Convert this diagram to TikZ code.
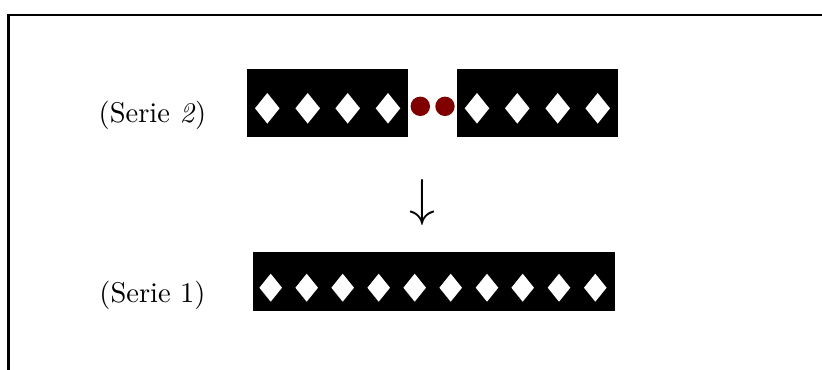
\documentclass[tikz,border=0pt]{standalone}
\usepackage{tikz}
\definecolor{dotred}{RGB}{128,0,0}
\begin{document}
\begin{tikzpicture}[x=0.3333pt,y=-0.3333pt,
  frameline/.style={line width=0.7pt,line cap=rect},
  strip/.style={fill=black},
  label/.style={inner sep=0pt,font=\fontsize{9.5}{11}\selectfont},
  bead/.style={fill=dotred},
  pip/.style={fill=white}]
\useasboundingbox (0,0) rectangle (822,369);
% open frame: top and left edges only
\draw[frameline] (8.5,369) -- (8.5,15) -- (822,15);

% labels
\node[label] (s2) at (152.5,115.5) {(Serie \textit{2})};
\node[label] (s1) at (152.5,295.5) {(Serie 1)};

% upper row: two strips joined by two beads
\fill[strip] (247,69) rectangle (407.7,136.7);
\fill[strip] (457,69) rectangle (617.7,136.7);
\foreach \x in {267.3,307.7,347.7,388,477,517.3,557.7,597.7}
  \fill[pip] (\x-12.3,108.3) -- (\x,93) -- (\x+12.3,108.3) -- (\x,123.6) -- cycle;
\fill[bead] (420.3,106.3) circle (9.7);
\fill[bead] (445,106.3) circle (9.7);

% arrow between the rows
\node[inner sep=0pt,font=\fontsize{16}{19}\selectfont] (arr) at (422.7,203) {$\downarrow$};

% lower row: one long strip
\fill[strip] (253,252.3) rectangle (615,310.7);
\foreach \x in {270.7,306.7,342.7,378.7,414.7,450.7,487,522.7,559,595.3}
  \fill[pip] (\x-11.3,287.7) -- (\x,273.7) -- (\x+11.3,287.7) -- (\x,301.7) -- cycle;
\end{tikzpicture}
\end{document}
